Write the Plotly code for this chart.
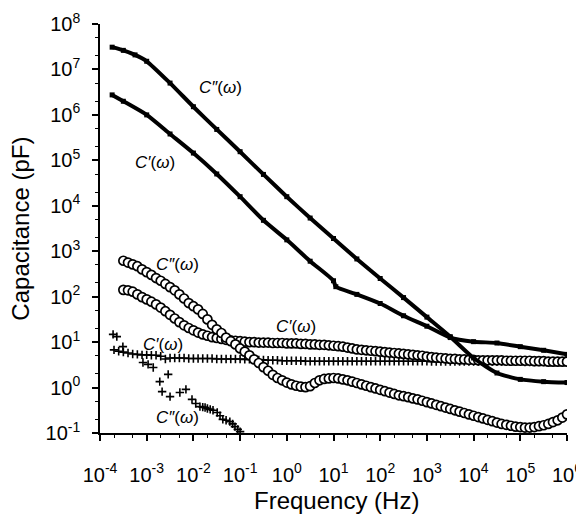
import plotly.graph_objects as go

# log10(frequency / Hz) and log10(capacitance / pF)

# filled squares
sq_cpp_logf = [-3.74, -3.5, -3.25, -3.0, -2.5, -2.0, -1.5, -1.0, -0.5, 0.0, 0.5, 1.0,
               1.5, 2.0, 2.5, 3.0, 3.5, 4.0, 4.5, 5.0, 5.5, 6.0]
sq_cpp_logc = [7.49, 7.42, 7.32, 7.18, 6.70, 6.18, 5.68, 5.19, 4.69, 4.20, 3.73, 3.28,
               2.83, 2.40, 1.98, 1.55, 1.12, 0.65, 0.32, 0.18, 0.13, 0.11]

sq_cp_logf = [-3.74, -3.5, -3.0, -2.5, -2.0, -1.5, -1.0, -0.5, 0.0, 0.5, 1.0, 1.05,
              1.5, 2.0, 2.5, 3.0, 3.5, 4.0, 4.5, 5.0, 5.5, 6.0]
sq_cp_logc = [6.44, 6.30, 6.00, 5.58, 5.16, 4.70, 4.20, 3.68, 3.25, 2.78, 2.35, 2.22,
              2.05, 1.85, 1.58, 1.35, 1.10, 1.01, 0.98, 0.90, 0.82, 0.73]

# open circles
circ_logf = [-3.5, -3.4, -3.3, -3.2, -3.1, -3.0,
             -2.9, -2.8, -2.7, -2.6, -2.5, -2.4, -2.3, -2.2, -2.1, -2.0,
             -1.9, -1.8, -1.7, -1.6, -1.5, -1.4, -1.3, -1.2, -1.1, -1.0,
             -0.9, -0.8, -0.7, -0.6, -0.5, -0.4, -0.3, -0.2, -0.1, 0.0,
             0.1, 0.2, 0.3, 0.4, 0.5, 0.6, 0.7, 0.8, 0.9, 1.0,
             1.1, 1.2, 1.3, 1.4, 1.5, 1.6, 1.7, 1.8, 1.9, 2.0,
             2.1, 2.2, 2.3, 2.4, 2.5, 2.6, 2.7, 2.8, 2.9, 3.0,
             3.1, 3.2, 3.3, 3.4, 3.5, 3.6, 3.7, 3.8, 3.9, 4.0,
             4.1, 4.2, 4.3, 4.4, 4.5, 4.6, 4.7, 4.8, 4.9, 5.0,
             5.1, 5.2, 5.3, 5.4, 5.5, 5.6, 5.7, 5.8, 5.9, 6.0]
circ_cpp_logc = [2.79, 2.75, 2.71, 2.67, 2.60, 2.54,
                 2.48, 2.41, 2.35, 2.28, 2.21, 2.14, 2.05, 1.96, 1.86, 1.79,
                 1.72, 1.62, 1.50, 1.38, 1.28, 1.20, 1.10, 1.02, 0.95, 0.86,
                 0.79, 0.71, 0.62, 0.54, 0.45, 0.37, 0.28, 0.21, 0.16, 0.11,
                 0.07, 0.04, 0.02, 0.01, 0.03, 0.10, 0.16, 0.19, 0.20, 0.21,
                 0.20, 0.18, 0.16, 0.13, 0.10, 0.07, 0.04, 0.01, -0.02, -0.05,
                 -0.08, -0.11, -0.14, -0.17, -0.19, -0.21, -0.24, -0.26, -0.29, -0.32,
                 -0.35, -0.38, -0.41, -0.44, -0.47, -0.50, -0.53, -0.56, -0.59, -0.62,
                 -0.65, -0.68, -0.71, -0.74, -0.77, -0.80, -0.82, -0.84, -0.86, -0.87,
                 -0.88, -0.88, -0.87, -0.85, -0.83, -0.80, -0.76, -0.72, -0.66, -0.59]
circ_cp_logc = [2.15, 2.14, 2.11, 2.05, 1.99, 1.94,
                1.89, 1.83, 1.76, 1.68, 1.60, 1.52, 1.44, 1.37, 1.31, 1.26,
                1.21, 1.17, 1.14, 1.11, 1.09, 1.07, 1.05, 1.04, 1.03, 1.02,
                1.01, 1.00, 1.00, 0.99, 0.99, 0.99, 0.98, 0.98, 0.98, 0.97,
                0.97, 0.97, 0.96, 0.96, 0.95, 0.95, 0.94, 0.94, 0.93, 0.92,
                0.91, 0.90, 0.88, 0.86, 0.84, 0.83, 0.82, 0.81, 0.80, 0.79,
                0.78, 0.77, 0.76, 0.75, 0.74, 0.73, 0.72, 0.71, 0.70, 0.68,
                0.67, 0.66, 0.65, 0.64, 0.63, 0.63, 0.62, 0.62, 0.61, 0.61,
                0.60, 0.60, 0.60, 0.60, 0.60, 0.60, 0.59, 0.59, 0.59, 0.59,
                0.59, 0.59, 0.58, 0.58, 0.58, 0.57, 0.57, 0.57, 0.57, 0.57]

# crosses
plus_cp_logf = [-3.7, -3.6, -3.5, -3.4, -3.3, -3.2, -3.1, -3.0,
                -2.9, -2.8, -2.7, -2.6, -2.5, -2.4, -2.3, -2.2, -2.1, -2.0,
                -1.9, -1.8, -1.7, -1.6, -1.5, -1.4, -1.3, -1.2, -1.1, -1.0,
                -0.9, -0.8, -0.7, -0.6, -0.5, -0.4, -0.3, -0.2, -0.1, 0.0,
                0.1, 0.2, 0.3, 0.4, 0.5, 0.6, 0.7, 0.8, 0.9, 1.0,
                1.1, 1.2, 1.3, 1.4, 1.5, 1.6, 1.7, 1.8, 1.9, 2.0,
                2.1, 2.2, 2.3, 2.4, 2.5, 2.6, 2.7, 2.8, 2.9, 3.0,
                3.1, 3.2, 3.3, 3.4, 3.5, 3.6, 3.7, 3.8, 3.9, 4.0,
                4.1, 4.2, 4.3, 4.4, 4.5, 4.6, 4.7, 4.8, 4.9, 5.0,
                5.1, 5.2, 5.3, 5.4, 5.5, 5.6, 5.7, 5.8, 5.9, 6.0]
plus_cp_logc = [0.83, 0.80, 0.78, 0.76, 0.74, 0.73, 0.72, 0.72,
                0.71, 0.71, 0.69, 0.63, 0.65, 0.65, 0.65, 0.65, 0.64, 0.64,
                0.64, 0.64, 0.64, 0.64, 0.63, 0.63, 0.63, 0.63, 0.63, 0.63,
                0.62, 0.62, 0.61, 0.61, 0.61, 0.60, 0.60, 0.60, 0.59, 0.59,
                0.59, 0.59, 0.59, 0.58, 0.58, 0.58, 0.58, 0.58, 0.58, 0.58,
                0.58, 0.58, 0.58, 0.58, 0.58, 0.58, 0.58, 0.58, 0.58, 0.58,
                0.58, 0.58, 0.58, 0.58, 0.58, 0.58, 0.58, 0.58, 0.58, 0.58,
                0.57, 0.57, 0.57, 0.57, 0.57, 0.57, 0.57, 0.57, 0.57, 0.57,
                0.57, 0.57, 0.57, 0.57, 0.57, 0.57, 0.57, 0.57, 0.57, 0.57,
                0.56, 0.56, 0.56, 0.56, 0.56, 0.56, 0.56, 0.56, 0.56, 0.56]

plus_cpp_logf = [-3.72, -3.64, -3.51, -3.08, -2.97, -2.86, -2.72, -2.67, -2.54, -2.50,
                 -2.29, -2.16, -2.03, -1.95, -1.86, -1.80, -1.75, -1.70, -1.64, -1.58,
                 -1.49, -1.43, -1.37, -1.30, -1.22, -1.16, -1.11, -1.05, -1.0]
plus_cpp_logc = [1.17, 1.12, 0.90, 0.55, 0.51, 0.44, 0.13, -0.09, 0.29, -0.20,
                 -0.11, -0.04, -0.26, -0.35, -0.42, -0.43, -0.44, -0.46, -0.48, -0.50,
                 -0.55, -0.62, -0.70, -0.72, -0.75, -0.80, -0.86, -0.92, -0.97]

tick_exp = list(range(-4, 7))
ytick_exp = list(range(-1, 9))

# label text, position (log f, log C)
labels = [
    ("<i>C″</i>(<i>ω</i>)", -1.43, 6.60),
    ("<i>C′</i>(<i>ω</i>)", -2.82, 4.95),
    ("<i>C″</i>(<i>ω</i>)", -2.33, 2.70),
    ("<i>C′</i>(<i>ω</i>)", 0.20, 1.34),
    ("<i>C′</i>(<i>ω</i>)", -2.65, 0.95),
    ("<i>C″</i>(<i>ω</i>)", -2.33, -0.66),
]

FONT = "Liberation Sans, Arial, sans-serif"


def pw(vals):
    return [10 ** v for v in vals]


fig = go.Figure()

fig.add_trace(go.Scatter(
    x=pw(plus_cpp_logf), y=pw(plus_cpp_logc), mode="markers",
    marker=dict(symbol="cross-thin", size=6, line=dict(width=1.6, color="black")),
))
fig.add_trace(go.Scatter(
    x=pw(plus_cp_logf), y=pw(plus_cp_logc), mode="markers",
    marker=dict(symbol="cross-thin", size=6, line=dict(width=1.6, color="black")),
))
for ys in (circ_cp_logc, circ_cpp_logc):
    fig.add_trace(go.Scatter(
        x=pw(circ_logf), y=pw(ys), mode="markers",
        marker=dict(symbol="circle", size=9, color="white",
                    line=dict(width=1.7, color="black")),
    ))
for xs, ys in ((sq_cp_logf, sq_cp_logc), (sq_cpp_logf, sq_cpp_logc)):
    fig.add_trace(go.Scatter(
        x=pw(xs), y=pw(ys), mode="lines+markers",
        line=dict(color="black", width=4, shape="spline", smoothing=0.6),
        marker=dict(symbol="square", size=5, color="black"),
    ))

for text, lx, ly in labels:
    fig.add_annotation(x=lx, y=ly, xref="x", yref="y", text=text, showarrow=False,
                       xanchor="center", yanchor="middle",
                       font=dict(family=FONT, size=17, color="black"))

fig.add_annotation(x=-0.171, y=0.5, xref="paper", yref="paper", text="Capacitance (pF)",
                   textangle=-90, showarrow=False, xanchor="center", yanchor="middle",
                   font=dict(family=FONT, size=24, color="black"))
fig.add_annotation(x=0.507, y=-0.164, xref="paper", yref="paper", text="Frequency (Hz)",
                   showarrow=False, xanchor="center", yanchor="middle",
                   font=dict(family=FONT, size=24, color="black"))

axis_common = dict(
    type="log", showgrid=False, zeroline=False, showline=True, linecolor="black",
    linewidth=1.5, ticks="outside", ticklen=6, tickwidth=1.5, tickcolor="black",
    tickfont=dict(family=FONT, size=20, color="black"), automargin=False,
    ticklabeloverflow="allow",
    minor=dict(ticks="outside", ticklen=3, tickwidth=1, tickcolor="black"),
)

fig.update_xaxes(range=[-4, 6], tickvals=[10 ** e for e in tick_exp],
                 ticktext=[f"10<sup>{e}</sup>" for e in tick_exp],
                 ticklabelstandoff=17, **axis_common)
fig.update_yaxes(range=[-1, 8], tickvals=[10 ** e for e in ytick_exp],
                 ticktext=[f"10<sup>{e}</sup>" for e in ytick_exp],
                 ticklabelstandoff=8, **axis_common)

# the page body adds an 8 px offset; margins are shifted to compensate
fig.update_layout(
    width=584, height=506,
    margin=dict(l=92, r=25, t=16, b=81),
    showlegend=False,
    plot_bgcolor="white", paper_bgcolor="white",
)

fig.write_html("out.html")
